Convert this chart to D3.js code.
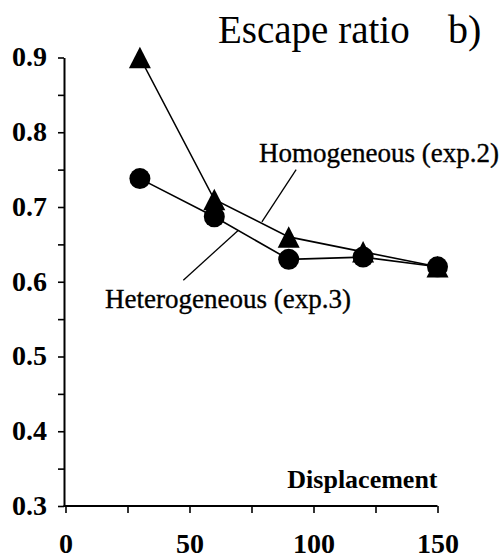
<!DOCTYPE html>
<html>
<head>
<meta charset="utf-8">
<script src="https://cdn.jsdelivr.net/npm/d3@7"></script>
<style>
  html, body { margin: 0; padding: 0; background: #fff; }
  svg { display: block; }
</style>
</head>
<body>
<script>
// Escape ratio against displacement for two experiments
const displacement = [30, 60, 90, 120, 150];
const homogeneous = [0.90, 0.71, 0.66, 0.64, 0.62];     // exp.2, triangles
const heterogeneous = [0.738, 0.687, 0.63, 0.633, 0.62]; // exp.3, circles

const xTickValues = [0, 25, 50, 75, 100, 125, 150];
const xTickLabels = [0, 50, 100, 150];
const yTickValues = [0.3, 0.35, 0.4, 0.45, 0.5, 0.55, 0.6, 0.65, 0.7, 0.75, 0.8, 0.85, 0.9];
const yTickLabels = [0.3, 0.4, 0.5, 0.6, 0.7, 0.8, 0.9];

const FONT = "'Liberation Serif'";
const W = 504, H = 560;
const svg = d3.select("body").append("svg").attr("width", W).attr("height", H);

const x = d3.scaleLinear().domain([0, 150]).range([65.5, 437.5]);
const y = d3.scaleLinear().domain([0.3, 0.9]).range([506, 57.5]);

// Axes
const yAxis = d3.axisLeft(y)
  .tickValues(yTickValues)
  .tickSize(6)
  .tickSizeOuter(0)
  .tickFormat(d => yTickLabels.some(v => Math.abs(v - d) < 1e-9) ? d3.format(".1f")(d) : "");

const gy = svg.append("g").attr("transform", "translate(64,0)").call(yAxis);
gy.attr("font-family", null).attr("font-size", null);
gy.select(".domain").attr("stroke", "#000").attr("stroke-width", 2);
gy.selectAll(".tick line").attr("stroke", "#000").attr("stroke-width", 1.6);
gy.selectAll(".tick text")
  .attr("x", -17).attr("dy", "0.3em")
  .attr("fill", "#000")
  .style("font-family", FONT)
  .style("font-weight", "bold").style("font-size", "28px");

const xAxis = d3.axisBottom(x)
  .tickValues(xTickValues)
  .tickSize(7)
  .tickSizeOuter(0)
  .tickFormat(d => xTickLabels.includes(d) ? String(d) : "");

const gx = svg.append("g").attr("transform", "translate(0,506)").call(xAxis);
gx.attr("font-family", null).attr("font-size", null);
gx.select(".domain").attr("stroke", "#000").attr("stroke-width", 2)
  .attr("d", `M${x(0) - 2},0H${x(150)}`);
gx.selectAll(".tick line").attr("stroke", "#000").attr("stroke-width", 1.6);
gx.selectAll(".tick text")
  .attr("y", 47).attr("dy", 0)
  .attr("fill", "#000")
  .style("font-family", FONT)
  .style("font-weight", "bold").style("font-size", "28px");

// Axis caption
svg.append("text")
  .attr("x", x(150)).attr("y", 488)
  .attr("text-anchor", "end")
  .style("font-family", FONT)
  .style("font-weight", "bold").style("font-size", "26px")
  .text("Displacement");

// Title
svg.append("text")
  .attr("x", 218).attr("y", 43)
  .style("font-family", FONT)
  .style("font-size", "39px")
  .text("Escape ratio");
svg.append("text")
  .attr("x", 448).attr("y", 43)
  .style("font-family", FONT)
  .style("font-size", "40px")
  .text("b)");

// Series lines
const line = d3.line().x(d => x(d[0])).y(d => y(d[1]));
const homPts = displacement.map((d, i) => [d, homogeneous[i]]);
const hetPts = displacement.map((d, i) => [d, heterogeneous[i]]);

svg.append("path").datum(homPts).attr("d", line)
  .attr("fill", "none").attr("stroke", "#000").attr("stroke-width", 1.6);
svg.append("path").datum(hetPts).attr("d", line)
  .attr("fill", "none").attr("stroke", "#000").attr("stroke-width", 1.6);

// Markers: circles for exp.3, triangles for exp.2 drawn on top
svg.append("g").selectAll("circle").data(hetPts).join("circle")
  .attr("cx", d => x(d[0])).attr("cy", d => y(d[1])).attr("r", 10.5)
  .attr("fill", "#000");

const tw = 22, th = 21.5;
svg.append("g").selectAll("path").data(homPts).join("path")
  .attr("transform", d => `translate(${x(d[0])},${y(d[1])})`)
  .attr("d", `M0,${-th / 2}L${tw / 2},${th / 2}L${-tw / 2},${th / 2}Z`)
  .attr("fill", "#000");

// Series labels with leader lines
const homLeader = [[93, 0.750], [79.2, 0.680]];
const hetLeader = [[69.7, 0.669], [47.5, 0.602]];

svg.append("path").datum(homLeader).attr("d", line)
  .attr("fill", "none").attr("stroke", "#000").attr("stroke-width", 1.3);
svg.append("path").datum(hetLeader).attr("d", line)
  .attr("fill", "none").attr("stroke", "#000").attr("stroke-width", 1.3);

svg.append("text")
  .attr("x", 259).attr("y", 162)
  .style("font-family", FONT)
  .style("font-size", "27px")
  .attr("stroke", "#000").attr("stroke-width", 0.35)
  .text("Homogeneous (exp.2)");

svg.append("text")
  .attr("x", 105).attr("y", 308)
  .style("font-family", FONT)
  .style("font-size", "27px")
  .attr("stroke", "#000").attr("stroke-width", 0.35)
  .text("Heterogeneous (exp.3)");
</script>
</body>
</html>
